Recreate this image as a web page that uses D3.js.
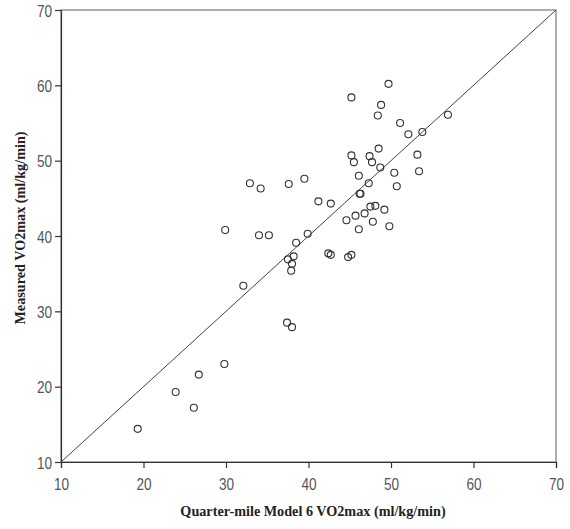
<!DOCTYPE html>
<html>
<head>
<meta charset="utf-8">
<script src="https://cdn.jsdelivr.net/npm/d3@7"></script>
<style>
  body { margin: 0; background: #fff; }
  .tick text { font-family: "Liberation Sans", Arial, sans-serif; font-size: 17px; fill: #555; }
  .title { font-family: "Liberation Serif", "Times New Roman", serif; font-weight: bold; font-size: 14.2px; fill: #222; }
</style>
</head>
<body>
<svg></svg>
<script>
const WIDTH = 570;
const HEIGHT = 529;

// predicted (x) vs measured (y)
const predicted = [19.3, 23.9, 26.1, 26.7, 29.8, 32.1, 37.4, 38.0, 37.5, 38.2, 38.0, 37.9, 38.5,
  42.4, 42.7, 44.8, 45.2, 32.9, 34.2, 37.6, 39.5, 41.2, 42.7, 29.9, 34.0, 35.2, 39.9,
  49.7, 45.2, 48.8, 48.4, 51.1, 52.1, 53.8, 56.9, 48.5, 53.2, 45.2, 45.5, 47.4, 47.7,
  48.7, 46.1, 50.4, 53.4, 47.3, 50.7, 46.2, 46.3, 47.5, 48.1, 49.2, 45.7, 46.8, 44.6,
  47.8, 46.1, 49.8];
const measured = [14.4, 19.3, 17.2, 21.6, 23.0, 33.4, 28.5, 27.9, 36.9, 37.3, 36.3, 35.4, 39.1,
  37.7, 37.5, 37.2, 37.5, 47.0, 46.3, 46.9, 47.6, 44.6, 44.3, 40.8, 40.1, 40.1, 40.3,
  60.2, 58.4, 57.4, 56.0, 55.0, 53.5, 53.8, 56.1, 51.6, 50.8, 50.7, 49.8, 50.6, 49.8,
  49.1, 48.0, 48.4, 48.6, 47.0, 46.6, 45.6, 45.6, 43.9, 44.0, 43.5, 42.7, 43.0, 42.1,
  41.9, 40.9, 41.3];
const ticks = [10, 20, 30, 40, 50, 60, 70];
const xTitle = "Quarter-mile Model 6 VO2max (ml/kg/min)";
const yTitle = "Measured VO2max (ml/kg/min)";

const plotL = 61, plotR = 556, plotT = 10, plotB = 462;
const squeeze = 0.8; // tick labels are a narrow face

var svg = d3.select("svg").attr("width", WIDTH).attr("height", HEIGHT);

var x = d3.scaleLinear().domain([10, 70]).range([plotL, plotR]);
var y = d3.scaleLinear().domain([10, 70]).range([plotB, plotT]);

// frame
svg.append("rect")
  .attr("x", plotL).attr("y", plotT)
  .attr("width", plotR - plotL).attr("height", plotB - plotT)
  .attr("fill", "none").attr("stroke", "#777").attr("stroke-width", 1.2);

var xAxis = svg.append("g")
  .attr("transform", "translate(0," + plotB + ")")
  .call(d3.axisBottom(x).tickValues(ticks).tickSize(6));
xAxis.selectAll(".tick text")
  .attr("y", 28).attr("dy", 0)
  .attr("transform", "scale(" + squeeze + ",1)");

var yAxis = svg.append("g")
  .attr("transform", "translate(" + plotL + ",0)")
  .call(d3.axisLeft(y).tickValues(ticks).tickSize(6));
yAxis.selectAll(".tick text")
  .attr("x", -9 / squeeze).attr("dy", "0.36em")
  .attr("transform", "scale(" + squeeze + ",1)");

svg.selectAll(".domain").attr("stroke", "#333").attr("stroke-width", 1.2);
svg.selectAll(".tick line").attr("stroke", "#333").attr("stroke-width", 1.2);

// reference line y = x
svg.append("line")
  .attr("x1", x(10)).attr("y1", y(10))
  .attr("x2", x(70)).attr("y2", y(70))
  .attr("stroke", "#444").attr("stroke-width", 1);

svg.append("g").selectAll("circle")
  .data(predicted)
  .enter()
  .append("circle")
  .attr("cx", (d) => x(d))
  .attr("cy", (d, i) => y(measured[i]))
  .attr("r", 3.5)
  .attr("fill", "none")
  .attr("stroke", "#333")
  .attr("stroke-width", 1.1);

svg.append("text")
  .attr("class", "title")
  .attr("x", 313).attr("y", 516)
  .attr("text-anchor", "middle")
  .text(xTitle);

svg.append("text")
  .attr("class", "title")
  .attr("transform", "translate(25,228) rotate(-90)")
  .attr("text-anchor", "middle")
  .text(yTitle);
</script>
</body>
</html>
